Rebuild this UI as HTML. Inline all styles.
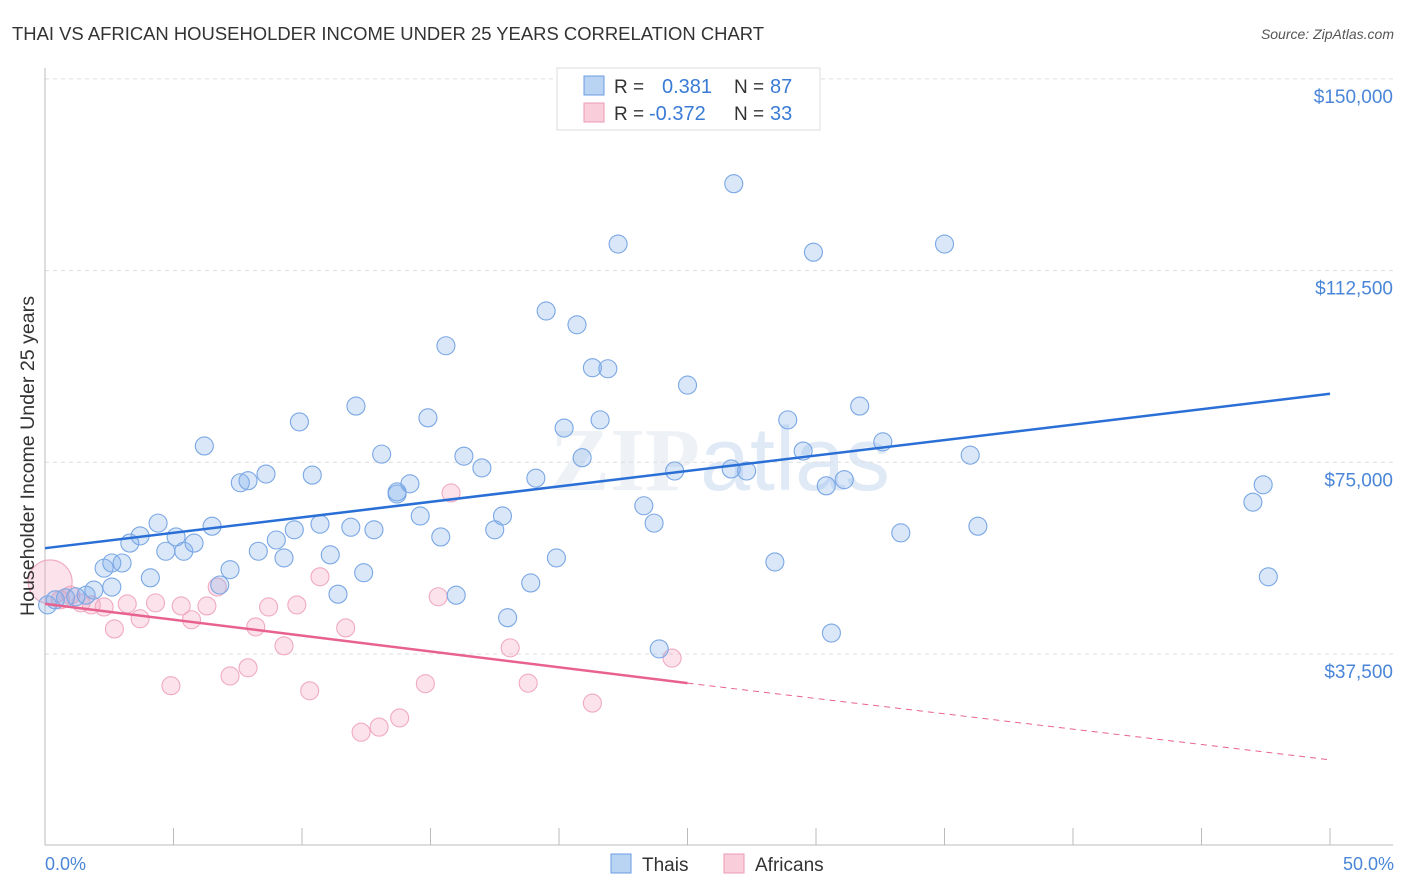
<!DOCTYPE html>
<html><head><meta charset="utf-8"><style>
body{margin:0;background:#fff;font-family:"Liberation Sans",sans-serif;}
</style></head><body>
<svg id="chart" width="1406" height="892" xmlns="http://www.w3.org/2000/svg" style="display:block">
<text x="12" y="40" font-size="18" fill="#333" font-family="Liberation Sans" textLength="752" lengthAdjust="spacingAndGlyphs">THAI VS AFRICAN HOUSEHOLDER INCOME UNDER 25 YEARS CORRELATION CHART</text>
<text x="1394" y="39" font-size="14" fill="#555" text-anchor="end" font-style="italic">Source: ZipAtlas.com</text>
<text x="720" y="490" font-size="90" fill="#eef2f7" text-anchor="middle" font-family="Liberation Serif" font-weight="bold">ZIP<tspan fill="#e0eaf6" font-family="Liberation Sans" font-weight="normal">atlas</tspan></text>
<g id="grid"></g>
<g id="axes"></g>
<g id="marks"></g>
<text transform="translate(34,456) rotate(-90)" font-size="19" fill="#333" text-anchor="middle" textLength="320" lengthAdjust="spacingAndGlyphs">Householder Income Under 25 years</text>
<text x="45" y="870" font-size="18" fill="#4a86d8">0.0%</text>
<text x="1394" y="870" font-size="18" fill="#4a86d8" text-anchor="end">50.0%</text>
<g>
<rect x="557" y="68" width="263" height="62" fill="#fff" stroke="#ddd"/>
<rect x="584" y="76" width="20" height="19" fill="#b9d3f3" stroke="#6a9be0"/>
<rect x="584" y="103" width="20" height="19" fill="#f9cdd9" stroke="#eb9ab2"/>
<text x="614" y="93" font-size="19" fill="#333">R =</text>
<text x="662" y="93" font-size="20" fill="#3a7bd5">0.381</text>
<text x="734" y="93" font-size="19" fill="#333">N =</text>
<text x="770" y="93" font-size="20" fill="#3a7bd5">87</text>
<text x="614" y="120" font-size="19" fill="#333">R =</text>
<text x="649" y="120" font-size="20" fill="#3a7bd5">-0.372</text>
<text x="734" y="120" font-size="19" fill="#333">N =</text>
<text x="770" y="120" font-size="20" fill="#3a7bd5">33</text>
</g>
<g>
<rect x="611" y="854" width="20" height="19" fill="#b9d3f3" stroke="#6a9be0"/>
<text x="642" y="871" font-size="19" fill="#333">Thais</text>
<rect x="724" y="854" width="20" height="19" fill="#f9cdd9" stroke="#eb9ab2"/>
<text x="755" y="871" font-size="19" fill="#333">Africans</text>
</g>
</svg>
<script>
const yTicks=[37500,75000,112500,150000];
const yTickLabels=["$37,500","$75,000","$112,500","$150,000"];
const xTicks=[0,5,10,15,20,25,30,35,40,45,50];
const thaiX=[0.1,0.4,0.8,1.2,1.6,1.9,2.3,2.6,3.0,2.6,3.3,3.7,4.1,4.4,4.7,5.1,5.4,5.8,6.2,6.5,6.8,7.2,7.6,7.9,8.3,8.6,9.0,9.3,9.7,9.9,10.4,10.7,11.1,11.4,12.1,11.9,12.4,12.8,13.1,13.7,13.7,14.2,14.6,14.9,15.4,15.6,16.0,16.3,17.0,17.5,17.8,18.0,18.9,19.1,19.5,19.9,20.2,20.7,20.9,21.3,21.6,21.9,22.3,23.3,23.7,23.9,24.5,25.0,26.7,26.8,27.3,28.4,28.9,29.5,29.9,30.4,30.6,31.1,31.7,32.6,33.3,35.0,36.0,36.3,47.0,47.4,47.6];
const thaiY=[47.1,48.1,48.5,48.7,49.0,50.0,54.3,55.3,55.3,50.6,59.2,60.6,52.4,63.1,57.6,60.4,57.6,59.2,78.2,62.5,51.0,54.0,71.0,71.4,57.6,72.7,59.8,56.3,61.8,82.9,72.5,62.9,56.9,49.2,86.0,62.3,53.4,61.8,76.6,69.2,68.8,70.8,64.5,83.7,60.4,97.8,49.0,76.2,73.9,61.8,64.5,44.6,51.4,71.9,104.6,56.3,81.7,101.9,75.9,93.5,83.3,93.3,117.7,66.5,63.1,38.5,73.3,90.1,73.7,129.5,73.3,55.5,83.3,77.2,116.1,70.4,41.6,71.6,86.0,79.0,61.2,117.7,76.4,62.5,67.2,70.6,52.6];
const afrX=[0.2,0.6,1.0,1.4,1.8,2.3,2.7,3.2,3.7,4.3,4.9,5.3,5.7,6.3,6.7,7.2,7.9,8.2,8.7,9.3,9.8,10.3,10.7,11.7,12.3,13.0,13.8,14.8,15.3,15.8,18.1,18.8,21.3,24.4];
const afrY=[51.6,48.1,49.0,47.5,47.1,46.7,42.4,47.3,44.4,47.5,31.3,46.9,44.2,46.9,50.6,33.2,34.8,42.8,46.7,39.1,47.1,30.3,52.6,42.6,22.2,23.2,25.0,31.7,48.7,69.0,38.7,31.8,27.9,36.7];
const thaiTrend=[58.2,88.4];
const afrTrend=[47.3,31.8,16.8];
const NS="http://www.w3.org/2000/svg";
function sx(v){return 45+v*25.7;}
function sy(k){return 845.7-k*1000*191.7/37500;}
function mk(tag,attrs,parent){const e=document.createElementNS(NS,tag);for(const k in attrs)e.setAttribute(k,attrs[k]);parent.appendChild(e);return e;}
const grid=document.getElementById('grid'),axes=document.getElementById('axes'),marks=document.getElementById('marks');
yTicks.forEach((t,i)=>{
 const y=sy(t/1000);
 const l=mk('line',{x1:45,x2:1393,y1:y,y2:y,stroke:'#ddd','stroke-dasharray':'4,4'},grid);
 
 
 const tx=mk('text',{x:1393,y:y+24,'font-size':19,fill:'#4a86d8','text-anchor':'end'},grid);
 tx.textContent=yTickLabels[i];
 
 
});
const xa=mk('line',{x1:45,x2:1393,y1:845,y2:845,stroke:'#bbb'},axes);


const ya=mk('line',{x1:45,x2:45,y1:68,y2:845,stroke:'#bbb'},axes);


xTicks.forEach(t=>{const l=mk('line',{x1:sx(t),x2:sx(t),y1:828,y2:845,stroke:'#bbb'},axes);
 
 });
afrX.forEach((x,i)=>{const c=mk('circle',{cx:sx(x),cy:sy(afrY[i]),r:i===0?22:9,fill:'rgba(244,160,188,0.3)',stroke:'#f0aac0','stroke-width':1.1},marks);
 
 });
thaiX.forEach((x,i)=>{const c=mk('circle',{cx:sx(x),cy:sy(thaiY[i]),r:9,fill:'rgba(130,175,235,0.3)',stroke:'#7aa7e4','stroke-width':1.1},marks);
 
 });
const tl=mk('line',{x1:sx(0),y1:sy(thaiTrend[0]),x2:sx(50),y2:sy(thaiTrend[1]),stroke:'#2a6fd6','stroke-width':2.5},marks);


const al=mk('line',{x1:sx(0),y1:sy(afrTrend[0]),x2:sx(25),y2:sy(afrTrend[1]),stroke:'#e8628f','stroke-width':2.5},marks);


const ad=mk('line',{x1:sx(25),y1:sy(afrTrend[1]),x2:sx(50),y2:sy(afrTrend[2]),stroke:'#e8628f','stroke-width':1,'stroke-dasharray':'6,5'},marks);


</script>
</body></html>
